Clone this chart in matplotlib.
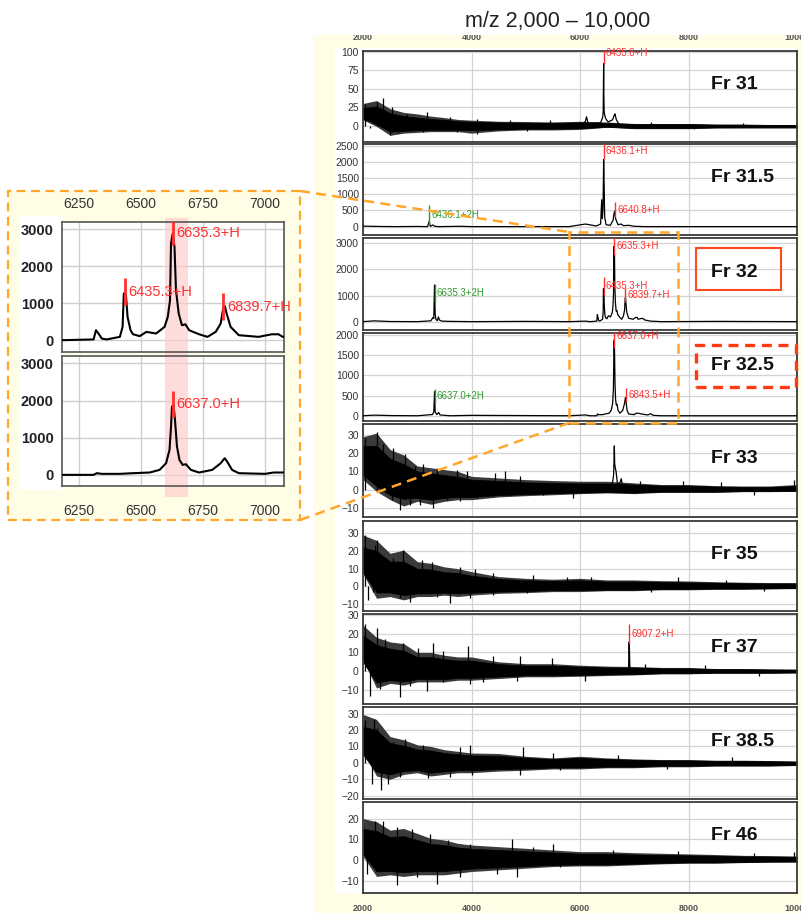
import matplotlib
matplotlib.use("Agg")
import matplotlib.pyplot as plt
from matplotlib.patches import Rectangle
from matplotlib.lines import Line2D
from matplotlib import transforms

plt.rcParams["font.family"] = ["Liberation Sans", "DejaVu Sans"]

W, H = 801, 913

# ---- data -----------------------------------------------------------------
FRACTIONS = ["Fr 31", "Fr 31.5", "Fr 32", "Fr 32.5", "Fr 33",
             "Fr 35", "Fr 37", "Fr 38.5", "Fr 46"]
Y_LIMITS = [(-22, 101), (-260, 2560), (-320, 3200), (-130, 2050), (-15, 36),
            (-14, 37), (-17.5, 30.5), (-22, 34), (-16, 28)]
Y_TICKS = [[0, 25, 50, 75, 100], [0, 500, 1000, 1500, 2000, 2500],
           [0, 1000, 2000, 3000], [0, 500, 1000, 1500, 2000],
           [-10, 0, 10, 20, 30], [-10, 0, 10, 20, 30], [-10, 0, 10, 20, 30],
           [-20, -10, 0, 10, 20, 30], [-10, 0, 10, 20]]
X_TICKS = [2000, 4000, 6000, 8000, 10000]

# noise: outer extent (HI/LO) and dense core (CORE_HI/CORE_LO) on a common grid
MZ_GRID = [2000, 2250, 2500, 2750, 3000, 3250, 3500, 3750, 4000, 4500, 5000,
           5500, 6000, 6500, 7000, 7500, 8000, 8500, 9000, 9500, 10000]
FR31_HI = [30, 34, 23, 18, 16, 13, 11, 8.5, 7.5, 6, 5.7, 5, 6, 5, 3, 3, 3, 2, 2, 1.5, 1.5]
FR31_LO = [8, -1, -13, -10, -9, -8, -8, -8, -10, -7, -5.7, -5.7, -5, -2, -4, -4, -4, -3, -3, -3, -3]
FR31_CORE_HI = [24, 26, 17, 13, 11, 9, 8, 6, 5.5, 4.5, 4, 4, 4.5, 3.5, 2.3, 2.2, 2.2, 1.6, 1.5, 1.2, 1.2]
FR31_CORE_LO = [10, 2, -8, -7, -6, -5.5, -5.5, -5.5, -6, -5, -4, -4, -3.5, -1.5, -3, -3, -3, -2.3, -2.2, -2.2, -2.2]
FR33_HI = [29, 31, 22, 19, 13, 12, 11, 10, 7.3, 6.4, 5.5, 5, 4.6, 4.6, 3.7, 2.8, 2.8, 2.2, 2, 2, 2.8]
FR33_LO = [5.5, -1, -5.5, -9, -6.4, -8, -6.4, -5.5, -5.5, -4, -3.3, -2.8, -2.2, -1.8, -2.2, -1.5, -1.5, -1.5, -1.1, -1.1, -0.9]
FR33_CORE_HI = [24, 24, 17, 14, 10, 9, 8, 7, 5.5, 4.8, 4, 3.7, 3.4, 3.4, 2.8, 2.2, 2.2, 1.7, 1.5, 1.5, 2]
FR33_CORE_LO = [8, 2, -3, -5, -4.5, -5.5, -4.5, -4, -4, -3, -2.5, -2, -1.6, -1.3, -1.6, -1.1, -1.1, -1.1, -0.8, -0.8, -0.7]
FR35_HI = [29, 26, 18.7, 20.5, 14, 13, 11, 10, 8.3, 5.5, 4.5, 4, 4.5, 3.6, 3.6, 3.2, 3, 2.6, 2.3, 2.1, 2.1]
FR35_LO = [7, -6.8, -5.8, -7.7, -5.8, -5.8, -5, -5.8, -5, -4, -3.6, -3, -3, -2.5, -2.5, -2, -2, -1.7, -1.7, -1.5, -1.3]
FR35_CORE_HI = [22, 20, 14, 14, 10, 9.5, 8, 7.5, 6, 4.2, 3.4, 3, 3.4, 2.7, 2.7, 2.4, 2.2, 2, 1.7, 1.6, 1.6]
FR35_CORE_LO = [8, -3.5, -3.5, -5, -4, -4, -3.6, -4, -3.6, -3, -2.7, -2.2, -2.2, -1.9, -1.9, -1.5, -1.5, -1.3, -1.3, -1.1, -1]
FR37_HI = [24.5, 18, 15.6, 14.7, 10, 10, 8.5, 7.6, 7.6, 5, 4, 4, 3.2, 2.7, 2.5, 2, 2, 1.4, 1.4, 1.2, 1.1]
FR37_LO = [6, -9, -6.5, -7.4, -5.7, -5.7, -5.7, -4.8, -4.8, -3.9, -3, -3, -2.7, -2.3, -2, -1.4, -1.4, -1.1, -1.1, -1.1, -0.9]
FR37_CORE_HI = [19, 14, 12, 11, 7.5, 7.5, 6.4, 5.7, 5.7, 3.8, 3, 3, 2.4, 2, 1.9, 1.5, 1.5, 1.1, 1.1, 0.9, 0.8]
FR37_CORE_LO = [5, -6, -4.8, -5.5, -4.2, -4.2, -4.2, -3.6, -3.6, -2.9, -2.2, -2.2, -2, -1.7, -1.5, -1.1, -1.1, -0.8, -0.8, -0.8, -0.7]
FR385_HI = [29.5, 26.4, 16, 14, 11, 10, 8, 7, 6, 5.7, 4, 3, 4, 3, 2.4, 2, 2, 1.6, 1.6, 1.4, 1]
FR385_LO = [6, -8, -10, -7, -6, -8, -7, -6, -6, -5, -4.5, -3.7, -3.7, -3, -3, -2.4, -2.4, -2, -2, -2, -1.6]
FR385_CORE_HI = [22, 20, 12, 10.5, 8.2, 7.5, 6, 5.2, 4.5, 4.3, 3, 2.3, 3, 2.3, 1.8, 1.5, 1.5, 1.2, 1.2, 1, 0.8]
FR385_CORE_LO = [5, -5.5, -7, -5, -4.5, -6, -5.2, -4.5, -4.5, -3.8, -3.4, -2.8, -2.8, -2.3, -2.3, -1.8, -1.8, -1.5, -1.5, -1.5, -1.2]
FR46_HI = [20, 18.5, 14.4, 15.2, 12.8, 10.4, 9.6, 8, 7.2, 6.4, 5.6, 4.8, 4, 4, 3.5, 3.2, 2.9, 2.6, 2.2, 2.1, 1.9]
FR46_LO = [1.6, -8, -7.2, -8, -7.2, -7.2, -7.2, -6.4, -5.6, -4.8, -4, -3.2, -2.9, -2.9, -2.4, -1.9, -1.6, -1.6, -1.3, -1.1, -1]
FR46_CORE_HI = [15, 14, 11, 11.5, 9.6, 7.8, 7.2, 6, 5.4, 4.8, 4.2, 3.6, 3, 3, 2.6, 2.4, 2.2, 2, 1.7, 1.6, 1.4]
FR46_CORE_LO = [3, -5.5, -5.4, -6, -5.4, -5.4, -5.4, -4.8, -4.2, -3.6, -3, -2.4, -2.2, -2.2, -1.8, -1.4, -1.2, -1.2, -1, -0.8, -0.8]

# single noise spikes (m/z, intensity)
FR31_SPIKES = [(2037, 29.7), (2129, -3.3), (2252, 32), (2375, 36.8), (2498, -12.7),
               (2528, 25), (2651, -10.4), (2805, 15.6), (3112, -8), (3173, 18),
               (3604, 12.3), (3726, -8), (4095, 9.4), (4095, -11.3), (4710, 7.5),
               (5017, -6.6), (5447, 7.5), (7300, 4.5), (8100, -4.8), (9000, 3.5)]
FR33_SPIKES = [(2037, 28.5), (2190, 0), (2264, 31.8), (2313, 0), (2375, 24.8),
               (2528, -5.5), (2559, 23), (2682, -11), (2774, 19.3), (2866, -8.3),
               (2958, 12.9), (3050, -8.3), (3112, 13.8), (3296, -10), (3357, 12),
               (3542, -5.5), (3726, 11), (3787, -6.4), (3910, 10), (4095, -4.6),
               (4402, -3.7), (4433, 9), (4617, 10), (4648, -2.8), (4894, 7.4),
               (5324, -2.8), (5877, -4.6), (7100, 5), (7900, 4.5), (8600, 4),
               (9200, -3), (9950, 5.5)]
FR35_SPIKES = [(2037, 29), (2098, -7.7), (2190, -3), (2221, 23.3), (2252, 26),
               (2528, -4), (2559, 15.9), (2682, -6.7), (2744, 20.5), (2866, -8.7),
               (3081, 14.9), (3265, 14), (3357, -5.8), (3603, -9.6), (3787, 11),
               (3971, -6.7), (4064, 10), (4402, 7.3), (4402, -5), (5017, -4),
               (5140, 6.4), (5631, -2.1), (5754, 5.5), (6200, 5), (7300, -3.5),
               (7800, 5), (8700, 3.5), (9400, -2.5)]
FR37_SPIKES = [(2037, 25), (2129, -13), (2252, 23.3), (2313, -9.6), (2406, 17),
               (2682, -14), (2744, 15.3), (2866, -7.8), (3020, 12.6), (3173, -10.5),
               (3296, 15.3), (3480, 10.8), (3480, -6), (3941, 13.5), (3971, -6.9),
               (4218, -6), (4402, 8.2), (4833, -5.1), (4894, 8.2), (5478, 7.3),
               (6100, -5), (7200, 4), (8300, 3.5), (9300, -2.5)]
FR385_SPIKES = [(2037, 26), (2160, -12.6), (2203, 27), (2252, 21), (2326, -16.7),
                (2467, -12.6), (2559, 12.8), (2682, -8.6), (2774, 14.8), (3112, 10.7),
                (3112, -4.5), (3204, -9.5), (3603, -8.6), (3787, 9.7), (3971, 10.7),
                (4003, -7.6), (4894, -7.6), (4956, 9.7), (5508, 5.7), (5631, -4.5),
                (6700, 4.5), (7600, -3.5), (8800, 3.5)]
FR46_SPIKES = [(2068, 13.3), (2068, -6.7), (2190, -3.5), (2221, 18.9), (2375, 18.9),
               (2621, 15.9), (2621, -12.3), (2897, 15.1), (2989, -8.3), (3235, 12.7),
               (3357, -11.5), (3573, 9.5), (3787, -8.3), (3971, 7.9), (4464, -6.7),
               (4741, 10.3), (4833, -8.3), (5140, 6.3), (5508, 7.9), (5631, -3.5),
               (6600, 5), (7800, 4.5), (9200, 3.5), (9950, 4)]

# spectra traces
FR31_MZ = [6050, 6100, 6120, 6150, 6380, 6420, 6428, 6432, 6436, 6440, 6446, 6470, 6520, 6600, 6630, 6645, 6670, 6720]
FR31_INT = [2, 6, 12, 3, 4, 12, 20, 55, 84, 40, 18, 10, 5, 8, 14, 16, 8, 2]

FR315_MZ = [2000, 2300, 2600, 3000, 3190, 3219, 3240, 3290, 3320, 3400,
            3800, 4000, 5800, 6100, 6300, 6380, 6400, 6412, 6425, 6436,
            6445, 6455, 6480, 6560, 6610, 6628, 6641, 6655, 6700, 6760,
            6800, 6900, 7000, 7200, 10000]
FR315_INT = [15, 5, 0, 5, 0, 160, 10, 50, 10, 0,
             10, 0, 0, 80, 20, 80, 830, 250, 600, 2080,
             1300, 300, 60, 40, 200, 420, 480, 250, 60, 80,
             30, 40, 10, 0, 0]

FR32_MZ = [2000, 2200, 2500, 3000, 3250, 3290, 3305, 3318, 3330, 3345,
           3370, 3390, 3410, 3450, 3600, 4000, 5000, 5800, 6100,
           6183, 6310, 6320, 6330, 6343, 6363, 6416, 6427, 6432, 6440,
           6447, 6459, 6469, 6496, 6523, 6562, 6596, 6609, 6618, 6622,
           6629, 6636, 6642, 6653, 6666, 6680, 6695, 6735, 6769, 6802,
           6822, 6833, 6839, 6846, 6862, 6895, 6975, 7028, 7055, 7072,
           7150, 7200, 7300, 7500, 8500, 10000]
FR32_INT = [0, 30, 5, 0, 30, 160, 120, 1400, 300, 80,
            40, 180, 60, 20, 10, 0, 10, 0, 20,
            0, 20, 270, 180, 45, 20, 90, 360, 1265, 1265,
            630, 270, 160, 110, 225, 180, 360, 630, 1080, 2620,
            2890, 2530, 1355, 720, 405, 430, 270, 160, 90, 225,
            450, 900, 920, 720, 360, 135, 90, 160, 160, 90,
            130, 60, 20, 0, 10, 0]

FR325_MZ = [2000, 2200, 2500, 3000, 3280, 3305, 3319, 3330, 3360, 3395,
            3420, 3600, 4000, 5800, 6100,
            6183, 6310, 6323, 6343, 6416, 6469, 6536, 6576, 6602, 6616,
            6622, 6626, 6632, 6638, 6646, 6656, 6669, 6682, 6702, 6735,
            6788, 6822, 6838, 6848, 6868, 6895, 7001, 7035, 7072,
            7150, 7250, 7300, 7350, 7500, 10000]
FR325_INT = [0, 15, 5, 0, 30, 90, 600, 100, 30, 80,
             20, 0, 10, 0, 20,
             0, 0, 45, 27, 27, 45, 63, 134, 313, 671,
             1298, 1835, 1880, 1477, 761, 403, 268, 286, 134, 63,
             134, 313, 448, 358, 134, 45, 27, 63, 63,
             40, 20, 50, 10, 0, 0]

FR33_MZ = [6560, 6600, 6620, 6628, 6633, 6640, 6650, 6665, 6690, 6740, 6760, 6790]
FR33_INT = [2, 4, 8, 18, 24, 14, 12, 10, 3, 4, 6, 1]
FR37_MZ = [6895, 6905, 6909, 6920]
FR37_INT = [1, 15.6, 14, 1]

# peak annotations: (m/z, bottom, top, label)
FR31_MARKS = [(6436, 84, 112, "6435.8+H")]
FR315_MARKS = [(3219, 50, 680, "6436.1+2H"), (6436, 2080, 2600, "6436.1+H"),
               (6645, 300, 750, "6640.8+H")]
FR32_MARKS = [(3318, 766, 1430, "6635.3+2H"), (6436, 1020, 1720, "6435.3+H"),
              (6630, 2550, 3240, "6635.3+H"), (6836, 766, 1277, "6839.7+H")]
FR325_MARKS = [(3319, 306, 653, "6637.0+2H"), (6632, 1670, 2270, "6637.0+H"),
               (6850, 347, 678, "6843.5+H")]
FR37_MARKS = [(6910, 14.7, 25, "6907.2+H")]

INSET_TOP_MARKS = [(6436, 948, 1671, "6435.3+H"), (6628, 2575, 3234, "6635.3+H"),
                   (6833, 542, 1265, "6839.7+H")]
INSET_BOTTOM_MARKS = [(6630, 1567, 2265, "6637.0+H")]
INSET_XTICKS = [6250, 6500, 6750, 7000]
INSET_YTICKS = [0, 1000, 2000, 3000]
HIGHLIGHT_MZ = (6598, 6691)

RED = "#ff3030"
GREEN = "#2e9a2e"
ORANGE = "#ffa62b"
YELLOW = "#fffde6"


def box(x0, y0, x1, y1):
    # pixel box (top-left origin) -> figure fraction rect
    return [x0 / W, 1 - y1 / H, (x1 - x0) / W, (y1 - y0) / H]


def fig_rect(fig, x0, y0, x1, y1, **kw):
    r = box(x0, y0, x1, y1)
    patch = Rectangle((r[0], r[1]), r[2], r[3], transform=fig.transFigure, **kw)
    fig.add_artist(patch)


def fig_line(fig, x0, y0, x1, y1, **kw):
    fig.add_artist(Line2D([x0 / W, x1 / W], [1 - y0 / H, 1 - y1 / H],
                          transform=fig.transFigure, **kw))


def add_marks(fig, ax, marks, size, dx, lw, clip=False):
    shift = transforms.offset_copy(ax.transData, fig=fig, x=dx, y=0, units="points")
    for mz, lo, hi, text in marks:
        color = GREEN if text.endswith("2H") else RED
        ax.vlines(mz, lo, hi, color=color, lw=lw, zorder=4)
        t = ax.text(mz, (lo + hi) / 2, text, transform=shift, color=color,
                    fontsize=size, va="center", ha="left", zorder=5)
        if clip:
            t.set_clip_path(ax.patch)


def main_panels(fig):
    tops = [51, 144, 238, 333, 424, 521, 614, 707, 802]
    bottoms = [142, 235, 330, 421, 517, 611, 704, 799, 893]
    noise = {"Fr 31": (FR31_HI, FR31_LO, FR31_CORE_HI, FR31_CORE_LO, FR31_SPIKES),
             "Fr 33": (FR33_HI, FR33_LO, FR33_CORE_HI, FR33_CORE_LO, FR33_SPIKES),
             "Fr 35": (FR35_HI, FR35_LO, FR35_CORE_HI, FR35_CORE_LO, FR35_SPIKES),
             "Fr 37": (FR37_HI, FR37_LO, FR37_CORE_HI, FR37_CORE_LO, FR37_SPIKES),
             "Fr 38.5": (FR385_HI, FR385_LO, FR385_CORE_HI, FR385_CORE_LO, FR385_SPIKES),
             "Fr 46": (FR46_HI, FR46_LO, FR46_CORE_HI, FR46_CORE_LO, FR46_SPIKES)}
    traces = {"Fr 31": (FR31_MZ, FR31_INT), "Fr 31.5": (FR315_MZ, FR315_INT),
              "Fr 32": (FR32_MZ, FR32_INT), "Fr 32.5": (FR325_MZ, FR325_INT),
              "Fr 33": (FR33_MZ, FR33_INT), "Fr 37": (FR37_MZ, FR37_INT)}
    marks = {"Fr 31": FR31_MARKS, "Fr 31.5": FR315_MARKS, "Fr 32": FR32_MARKS,
             "Fr 32.5": FR325_MARKS, "Fr 37": FR37_MARKS}

    axes = []
    for i, name in enumerate(FRACTIONS):
        ax = fig.add_axes(box(363, tops[i], 797, bottoms[i]))
        ax.set_xlim(2000, 10000)
        ax.set_ylim(*Y_LIMITS[i])
        ax.set_yticks(Y_TICKS[i])
        ax.set_xticks(X_TICKS)
        ax.grid(True, color="#d4d4d4", lw=0.9)
        ax.set_axisbelow(True)
        for s in ax.spines.values():
            s.set_color("#3a3a3a")
            s.set_linewidth(1.3)
        ax.tick_params(axis="y", length=0, pad=3, labelsize=7.5, labelcolor="#333333")
        ax.tick_params(axis="x", length=0, bottom=False, labelbottom=False)

        if name in noise:
            hi, lo, core_hi, core_lo, spikes = noise[name]
            ax.fill_between(MZ_GRID, lo, hi, color="#3a3a3a", lw=0, zorder=2)
            ax.fill_between(MZ_GRID, core_lo, core_hi, color="black", lw=0.5, zorder=2)
            ax.vlines([s[0] for s in spikes], 0, [s[1] for s in spikes],
                      color="black", lw=0.9, zorder=2)
        if name in traces:
            mz, val = traces[name]
            ax.plot(mz, val, color="black", lw=0.9, zorder=3)
        if name in marks:
            add_marks(fig, ax, marks[name], 7, 1.5, 1.0)

        ax.text(0.802, 0.63, name, transform=ax.transAxes, fontsize=14,
                fontweight="bold", va="center", ha="left", color="#111111")
        axes.append(ax)

    axes[0].tick_params(axis="x", top=True, labeltop=True, pad=6.5,
                        labelsize=6.5, labelcolor="#555555")
    axes[-1].tick_params(axis="x", bottom=True, labelbottom=True, pad=8,
                         labelsize=6.5, labelcolor="#555555")
    for ax in (axes[0], axes[-1]):
        for lbl in ax.get_xticklabels():
            lbl.set_fontweight("bold")

    # labelled boxes around Fr 32 / Fr 32.5
    fig_rect(fig, 696, 248, 781, 290, fill=False, ec="#ff4a1f", lw=1.5, zorder=6)
    fig_rect(fig, 696, 345, 796, 387, fill=False, ec="#ff3a10", lw=2.4,
             ls=(0, (3, 2)), zorder=6)


def inset(fig):
    ax_top = fig.add_axes(box(62, 222, 284, 352))
    ax_bot = fig.add_axes(box(62, 356, 284, 486))
    setups = [(ax_top, FR32_MZ, FR32_INT, INSET_TOP_MARKS, (-320, 3200), -0.031, 1.028),
              (ax_bot, FR325_MZ, FR325_INT, INSET_BOTTOM_MARKS, (-300, 3200), -0.084, 1.0)]
    for ax, mz, val, marks, ylim, ymin, ymax in setups:
        ax.set_xlim(6183, 7077)
        ax.set_ylim(*ylim)
        ax.set_xticks(INSET_XTICKS)
        ax.set_yticks(INSET_YTICKS)
        ax.grid(True, color="#cfcfcf", lw=1.0)
        ax.set_axisbelow(True)
        ax.axvspan(*HIGHLIGHT_MZ, ymin=ymin, ymax=ymax, color="#ffcaca",
                   alpha=0.65, lw=0, clip_on=False, zorder=1)
        ax.plot(mz, val, color="black", lw=1.5, zorder=3)
        add_marks(fig, ax, marks, 10.5, 2.5, 2.0, clip=True)
        for s in ax.spines.values():
            s.set_color("#555555")
            s.set_linewidth(1.2)
        ax.tick_params(axis="y", length=0, pad=6, labelsize=10.5, labelcolor="#222222")
        for lbl in ax.get_yticklabels():
            lbl.set_fontweight("bold")
    ax_top.tick_params(axis="x", length=0, top=True, labeltop=True, bottom=False,
                       labelbottom=False, pad=8, labelsize=10, labelcolor="#333333")
    ax_bot.tick_params(axis="x", length=0, pad=13, labelsize=10, labelcolor="#333333")


def main():
    fig = plt.figure(figsize=(W / 100, H / 100), dpi=100)
    fig.patch.set_facecolor("white")

    # backgrounds
    fig_rect(fig, 313, 35, 801, 913, fc=YELLOW, ec="none", zorder=-3)
    fig_rect(fig, 335, 48, 797, 893, fc="white", ec="none", zorder=-2)
    fig_rect(fig, 8, 191, 300, 520, fc=YELLOW, ec=ORANGE, lw=1.6,
             ls=(0, (4, 2.5)), zorder=-2)
    fig_rect(fig, 20, 216, 62, 490, fc="white", ec="none", zorder=-1)

    main_panels(fig)
    inset(fig)

    # crop line above the top tick labels, and the title
    fig_rect(fig, 313, 0, 801, 35, fc="white", ec="none", zorder=7)
    fig.text(558 / W, 1 - 22 / H, "m/z 2,000 \u2013 10,000", ha="center",
             va="center", fontsize=15.5, color="#222222", zorder=8)

    # zoom box and connectors
    fig_rect(fig, 569, 232, 678, 423, fill=False, ec=ORANGE, lw=1.8,
             ls=(0, (4, 2.5)), zorder=6)
    fig_line(fig, 300, 191, 569, 232, color=ORANGE, lw=1.8, ls=(0, (4, 2.5)), zorder=6)
    fig_line(fig, 300, 520, 569, 423, color=ORANGE, lw=1.8, ls=(0, (4, 2.5)), zorder=6)

    fig.savefig("out.png", dpi=100)


if __name__ == "__main__":
    main()
